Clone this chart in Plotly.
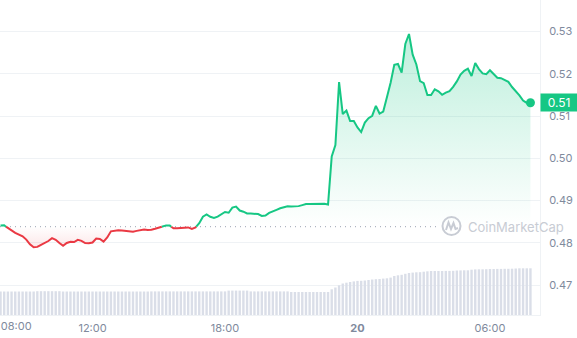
import pandas as pd
import plotly.graph_objects as go

# 24h price series, one sample every 10 minutes
start_time = "2024-03-19 07:50"
open_price = 0.4838

price = [
    0.48406, 0.48413, 0.48344, 0.48292, 0.48236, 0.48195, 0.48153, 0.48075, 0.47963, 0.47892,
    0.47902, 0.47952, 0.47992, 0.48041, 0.48108, 0.48070, 0.47996, 0.47928, 0.47994, 0.48022,
    0.48018, 0.48070, 0.48046, 0.47994, 0.47987, 0.48006, 0.48101, 0.48089, 0.48027, 0.48124,
    0.48271, 0.48292, 0.48295, 0.48290, 0.48278, 0.48271, 0.48262, 0.48281, 0.48302, 0.48316,
    0.48304, 0.48307, 0.48330, 0.48356, 0.48385, 0.48411, 0.48406, 0.48342, 0.48342, 0.48340,
    0.48356, 0.48363, 0.48328, 0.48361, 0.48463, 0.48617, 0.48669, 0.48614, 0.48588, 0.48619,
    0.48680, 0.48728, 0.48711, 0.48832, 0.48856, 0.48763, 0.48735, 0.48695, 0.48690, 0.48692,
    0.48680, 0.48636, 0.48643, 0.48707, 0.48752, 0.48780, 0.48815, 0.48834, 0.48863, 0.48860,
    0.48858, 0.48867, 0.48891, 0.48917, 0.48917, 0.48917, 0.48924, 0.48931, 0.48922, 0.48905,
    0.50041, 0.50314, 0.51805, 0.51047, 0.51128, 0.50882, 0.50882, 0.50728, 0.50621, 0.50844,
    0.50950, 0.51007, 0.51241, 0.51059, 0.51104, 0.51443, 0.51786, 0.52212, 0.52231, 0.52027,
    0.52704, 0.52941, 0.52453, 0.52219, 0.51824, 0.51779, 0.51497, 0.51497, 0.51632, 0.51585,
    0.51502, 0.51554, 0.51589, 0.51689, 0.51819, 0.51982, 0.52070, 0.52120, 0.51947, 0.52257,
    0.52110, 0.52008, 0.51989, 0.52082, 0.51992, 0.51906, 0.51895, 0.51854, 0.51809, 0.51686,
    0.51599, 0.51490, 0.51367, 0.51310, 0.51315,
]

# rolling 24h volume (millions)
volume = [
    2.35, 2.35, 2.35, 2.35, 2.35, 2.35, 2.35, 2.35, 2.35, 2.35,
    2.38, 2.38, 2.38, 2.38, 2.38, 2.38, 2.38,
    2.35, 2.35, 2.35, 2.35, 2.35, 2.35, 2.35, 2.35, 2.35, 2.35, 2.35, 2.35,
    2.35, 2.35, 2.35, 2.35, 2.35, 2.35, 2.35, 2.35, 2.35, 2.35, 2.35, 2.35,
    2.36, 2.36, 2.36, 2.36, 2.36, 2.36, 2.36, 2.36, 2.36, 2.36, 2.36,
    2.36, 2.36, 2.36, 2.36, 2.36, 2.36, 2.36, 2.36, 2.36, 2.36,
    2.44, 2.44, 2.44, 2.44, 2.44, 2.44,
    2.36, 2.36, 2.36, 2.36, 2.36, 2.36, 2.36, 2.36, 2.36, 2.36, 2.36,
    2.30, 2.30, 2.30, 2.30, 2.30, 2.30, 2.30, 2.30, 2.30, 2.30, 2.30,
    2.57, 2.75, 2.97, 3.15, 3.23, 3.30, 3.36, 3.41, 3.42, 3.45,
    3.50, 3.55, 3.58, 3.60, 3.64, 3.67, 3.74, 3.90, 3.97, 4.02,
    4.12, 4.20, 4.24, 4.27, 4.28, 4.33, 4.37, 4.40, 4.40, 4.40,
    4.40, 4.41, 4.41, 4.42, 4.45, 4.46, 4.47, 4.47, 4.53, 4.56,
    4.57, 4.57, 4.58, 4.60, 4.60, 4.61, 4.61, 4.62, 4.62, 4.63,
    4.65, 4.67, 4.67, 4.67, 4.67,
]

# the first time label sits at the left edge and is nudged inward on its own axis
first_tick_time = ["2024-03-19 08:00"]
first_tick_label = ["08:00"]
tick_times = ["2024-03-19 12:00", "2024-03-19 18:00", "2024-03-20 00:00", "2024-03-20 06:00"]
tick_labels = ["12:00", "18:00", "<b>20</b>", "06:00"]
price_ticks = [0.47, 0.48, 0.49, 0.50, 0.51, 0.52, 0.53]

GREEN = "#16c784"
RED = "#ea3943"
GRID = "#eff2f5"
LABEL = "#808a9d"

times = pd.date_range(start_time, periods=len(price), freq="10min")

# insert the exact crossing points with the opening price so colours switch cleanly
t_ns = times.asi8
xs, ys = [], []
for i, p in enumerate(price):
    if i > 0:
        a, b = price[i - 1] - open_price, p - open_price
        if a * b < 0:
            f = a / (a - b)
            xs.append(t_ns[i - 1] + f * (t_ns[i] - t_ns[i - 1]))
            ys.append(open_price)
    xs.append(t_ns[i])
    ys.append(p)
xs = pd.to_datetime([int(v) for v in xs])

up_line = [v if v >= open_price else None for v in ys]
down_line = [v if v <= open_price else None for v in ys]
up_fill = [max(v, open_price) for v in ys]
down_fill = [min(v, open_price) for v in ys]
base = [open_price] * len(ys)

fig = go.Figure()

# volume bars on a hidden overlaid axis
fig.add_trace(go.Bar(x=times, y=volume, yaxis="y2", marker=dict(color="#dadee8", line_width=0),
                     hoverinfo="skip", showlegend=False))

fig.add_trace(go.Scatter(x=xs, y=base, mode="lines", line=dict(width=0), hoverinfo="skip",
                         showlegend=False))
fig.add_trace(go.Scatter(
    x=xs, y=up_fill, mode="lines", line=dict(width=0), fill="tonexty",
    fillgradient=dict(type="vertical", start=open_price, stop=max(price),
                      colorscale=[[0, "rgba(22,199,132,0)"], [1, "rgba(22,199,132,0.28)"]]),
    hoverinfo="skip", showlegend=False))
fig.add_trace(go.Scatter(x=xs, y=base, mode="lines", line=dict(width=0), hoverinfo="skip",
                         showlegend=False))
fig.add_trace(go.Scatter(
    x=xs, y=down_fill, mode="lines", line=dict(width=0), fill="tonexty",
    fillgradient=dict(type="vertical", start=min(price), stop=open_price,
                      colorscale=[[0, "rgba(234,57,67,0.12)"], [1, "rgba(234,57,67,0)"]]),
    hoverinfo="skip", showlegend=False))

fig.add_trace(go.Scatter(x=xs, y=down_line, mode="lines", line=dict(color=RED, width=2),
                         connectgaps=False, showlegend=False))
fig.add_trace(go.Scatter(x=xs, y=up_line, mode="lines", line=dict(color=GREEN, width=2),
                         connectgaps=False, showlegend=False))
fig.add_trace(go.Scatter(x=[times[-1]], y=[price[-1]], mode="markers",
                         marker=dict(color=GREEN, size=9), showlegend=False))

# invisible anchor so the second time axis is rendered
fig.add_trace(go.Scatter(x=[times[0]], y=[price[0]], xaxis="x2", mode="markers",
                         marker=dict(opacity=0), hoverinfo="skip", showlegend=False))

# plot area is 540 x 315 px; helpers for decoration placed in pixels
W, H = 540.0, 315.0
def px(x):
    return x / W
def py(y):
    return 1 - y / H

shapes = [
    dict(type="line", xref="paper", yref="y", x0=0, x1=px(440), y0=open_price, y1=open_price,
         line=dict(color="#9aa3b2", width=1, dash="1px,4px"), layer="below"),
    dict(type="circle", xref="paper", yref="paper", x0=px(442.5), x1=px(460.5),
         y0=py(235), y1=py(217), line=dict(color="#c8ccd4", width=2)),
    dict(type="path", xref="paper", yref="paper",
         path=(f"M{px(446)},{py(230)} L{px(448.5)},{py(222.5)} L{px(451)},{py(229)} "
               f"L{px(453.5)},{py(223)} L{px(455.5)},{py(229)} L{px(458)},{py(228)}"),
         line=dict(color="#c8ccd4", width=2)),
]

annotations = [
    dict(xref="paper", yref="paper", x=px(466), y=py(227), xanchor="left", yanchor="middle",
         text="CoinMarketCap", showarrow=False,
         font=dict(family="Inter", size=13, color="#c8ccd4")),
    dict(xref="paper", yref="y", x=1, y=price[-1], xanchor="left", yanchor="middle",
         text="0.51", showarrow=False, bgcolor=GREEN, width=32, height=13, borderpad=2,
         font=dict(family="Inter", size=12, color="white")),
]

start_range = pd.Timestamp("2024-03-19 08:00") - pd.Timedelta(hours=4.2 / 22.08)
end_range = pd.Timestamp("2024-03-19 08:00") + pd.Timedelta(hours=(540 - 4.2) / 22.08)

time_axis = dict(
    type="date", range=[start_range, end_range],
    tickfont=dict(family="Inter", size=11, color=LABEL),
    showgrid=False, zeroline=False, ticks="", ticklabelstandoff=3, automargin=False,
)

fig.update_layout(
    width=577, height=338,
    margin=dict(l=0, r=37, t=0, b=23, autoexpand=False),
    paper_bgcolor="white", plot_bgcolor="white",
    bargap=0.35,
    hovermode=False,
    shapes=shapes,
    annotations=annotations,
    xaxis=dict(time_axis, tickvals=tick_times, ticktext=tick_labels,
               showline=True, linecolor=GRID, linewidth=1),
    xaxis2=dict(time_axis, overlaying="x", side="bottom", anchor="y", tickvals=first_tick_time,
                ticktext=first_tick_label, ticklabelshift=12, showline=False,
                ticklabeloverflow="allow"),
    yaxis=dict(
        side="right", range=[0.4629, 0.53746],
        tickvals=price_ticks, tickformat=".2f",
        tickfont=dict(family="Inter", size=11, color=LABEL),
        showgrid=True, gridcolor=GRID, gridwidth=1, zeroline=False,
        showline=True, linecolor=GRID, linewidth=1, ticks="", ticklabelstandoff=6,
        automargin=False,
    ),
    yaxis2=dict(overlaying="y", range=[0, 31.5], visible=False),
)

fig.write_html("out.html")
